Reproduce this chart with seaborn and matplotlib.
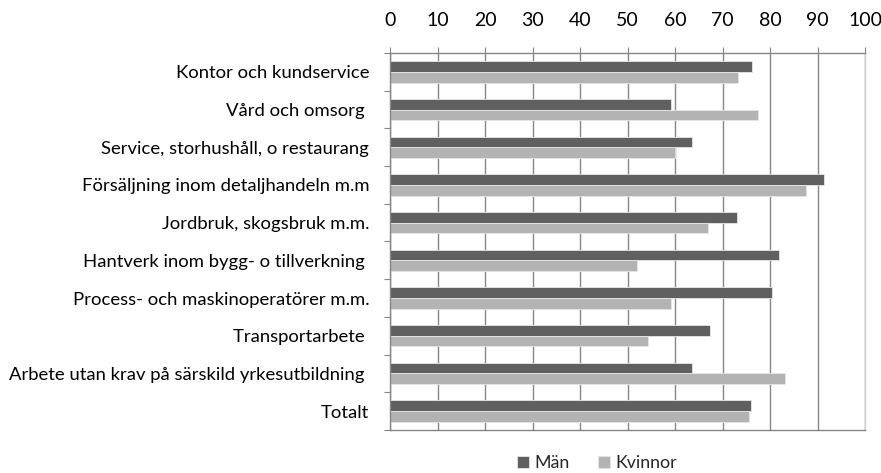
import matplotlib.pyplot as plt
import pandas as pd
import seaborn as sns

# Data
categories = ['Kontor och kundservice', 'Vård och omsorg ', 'Service, storhushåll, o restaurang',
              'Försäljning inom detaljhandeln m.m', 'Jordbruk, skogsbruk m.m.',
              'Hantverk inom bygg- o tillverkning ', 'Process- och maskinoperatörer m.m.',
              'Transportarbete ', 'Arbete utan krav på särskild yrkesutbildning ', 'Totalt']
man = [76.2, 59.1, 63.5, 91.4, 73.1, 81.9, 80.4, 67.3, 63.5, 75.9]
kvinnor = [73.3, 77.5, 60.0, 87.6, 67.0, 52.1, 59.1, 54.4, 83.2, 75.6]
series = ['Män', 'Kvinnor']
x_ticks = list(range(0, 101, 10))

df = pd.DataFrame({'kategori': categories * 2,
                   'serie': [series[0]] * len(categories) + [series[1]] * len(categories),
                   'varde': man + kvinnor})

sns.set_theme(style='white')
plt.rcParams['font.family'] = ['Lato', 'DejaVu Sans']

fig = plt.figure(figsize=(8.81, 4.73), dpi=100)
ax = fig.add_axes([390 / 881, 1 - 430 / 473, 475 / 881, 377 / 473])

sns.barplot(data=df, y='kategori', x='varde', hue='serie', orient='h',
            palette={'Män': '#606060', 'Kvinnor': '#b3b3b3'}, width=0.57,
            edgecolor='#e6e6e6', linewidth=0.6, ax=ax, legend=True)

ax.set_xlim(0, 100)
ax.set_ylim(len(categories) - 0.5, -0.5)
ax.set_xticks(x_ticks)
ax.xaxis.tick_top()
ax.tick_params(axis='x', which='major', top=True, bottom=False, length=4, width=0.8,
               color='#868686', pad=13, labelsize=14, labelcolor='black')
ax.set_axisbelow(True)
ax.grid(axis='x', color='#868686', linewidth=1)
ax.grid(axis='y', visible=False)
ax.set_xlabel('')
ax.set_ylabel('')

# category tick marks at boundaries, labels centred
ax.set_yticks([i - 0.5 for i in range(len(categories) + 1)], minor=True)
ax.tick_params(axis='y', which='minor', left=True, length=4, width=0.8, color='#868686')
ax.tick_params(axis='y', which='major', left=False, length=0, pad=15, labelsize=13.3,
               labelcolor='black')

for side in ['top', 'left', 'bottom']:
    ax.spines[side].set_color('#868686')
    ax.spines[side].set_linewidth(1)
ax.spines['right'].set_color('#d0d0d0')
ax.spines['right'].set_linewidth(1)

handles, labels = ax.get_legend_handles_labels()
ax.get_legend().remove()
fig.legend(handles, labels, loc='center', bbox_to_anchor=(597 / 881, 1 - 463 / 473),
           ncol=2, frameon=False, fontsize=12.8, handlelength=0.7, handleheight=0.7,
           handletextpad=0.3, columnspacing=1.6)

fig.savefig('out.png', dpi=100)
